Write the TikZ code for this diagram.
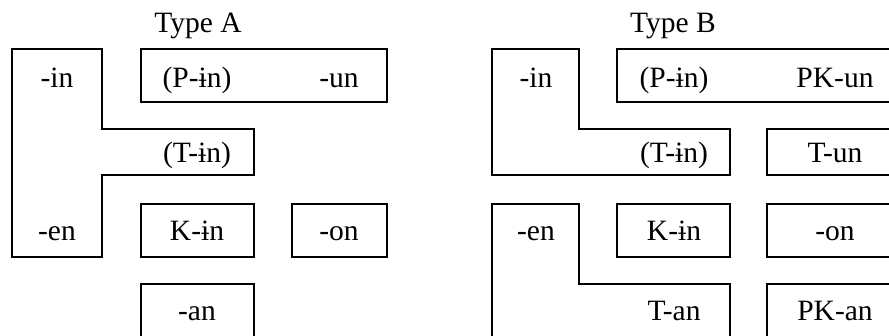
\documentclass[tikz,border=0pt]{standalone}
\usepackage{fontspec}
\setmainfont{Liberation Serif}

\begin{document}
\begin{tikzpicture}[x=1pt,y=-1pt,line width=2.5pt,
	lbl/.style={anchor=base,font=\fontsize{29.5}{34}\selectfont}]
	\clip (0,0) rectangle (889,336);
	
	% Type A
	\node[lbl] (typeA) at (198,33) {Type A};
	\draw (12,49) -- (102,49) -- (102,129) -- (254,129) -- (254,175) -- (102,175) -- (102,257) -- (12,257) -- cycle;
	\draw (141,49) rectangle (387,102);
	\draw (141,204) rectangle (254,257);
	\draw (292,204) rectangle (387,257);
	\draw (141,284) rectangle (254,350);
	
	\node[lbl] (inA) at (57,88) {-in};
	\node[lbl] (PinA) at (197,88) {(P-ɨn)};
	\node[lbl] (unA) at (339,88) {-un};
	\node[lbl] (TinA) at (197,163) {(T-ɨn)};
	\node[lbl] (enA) at (57,241) {-en};
	\node[lbl] (KinA) at (197,241) {K-ɨn};
	\node[lbl] (onA) at (339,241) {-on};
	\node[lbl] (anA) at (197,321) {-an};
	
	% Type B
	\node[lbl] (typeB) at (673,33) {Type B};
	\draw (492,49) -- (579,49) -- (579,129) -- (730,129) -- (730,175) -- (492,175) -- cycle;
	\draw (617,49) rectangle (920,102);
	\draw (767,129) rectangle (920,175);
	\draw (492,204) -- (579,204) -- (579,284) -- (730,284) -- (730,350) -- (492,350) -- cycle;
	\draw (617,204) rectangle (730,257);
	\draw (767,204) rectangle (920,257);
	\draw (767,284) rectangle (920,350);
	
	\node[lbl] (inB) at (536,88) {-in};
	\node[lbl] (PinB) at (674,88) {(P-ɨn)};
	\node[lbl] (PKunB) at (835,88) {PK-un};
	\node[lbl] (TinB) at (674,163) {(T-ɨn)};
	\node[lbl] (TunB) at (835,163) {T-un};
	\node[lbl] (enB) at (536,241) {-en};
	\node[lbl] (KinB) at (674,241) {K-ɨn};
	\node[lbl] (onB) at (835,241) {-on};
	\node[lbl] (TanB) at (674,321) {T-an};
	\node[lbl] (PKanB) at (835,321) {PK-an};
\end{tikzpicture}
\end{document}
